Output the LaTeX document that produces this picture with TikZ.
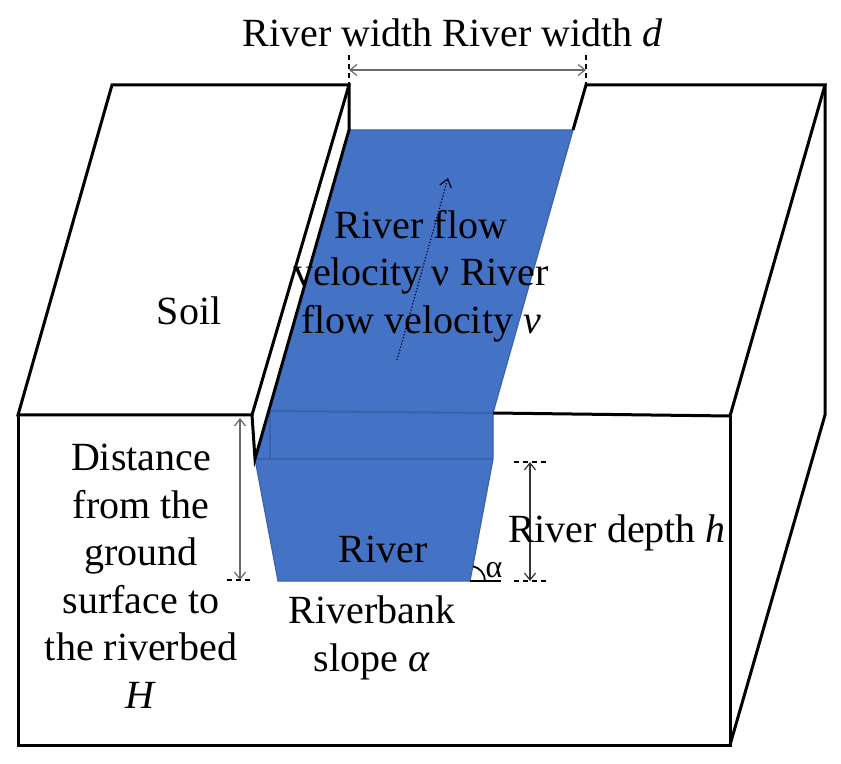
\documentclass[tikz,border=0pt]{standalone}
\usepackage{fontspec}
\setmainfont{Liberation Serif}
\usetikzlibrary{arrows.meta}
\definecolor{water}{HTML}{4472C4}
\definecolor{waterline}{HTML}{3A63AE}
\definecolor{dimgray}{HTML}{6A6A6A}
\begin{document}
\begin{tikzpicture}[x=0.5pt,y=-0.5pt,
  edge/.style={line width=1.5pt,line join=miter,draw=black},
  dimline/.style={line width=0.6pt,draw=dimgray,{Straight Barb[length=3.5pt,width=5.5pt]}-{Straight Barb[length=3.5pt,width=5.5pt]}},
  extline/.style={line width=0.7pt,draw=black,dash pattern=on 2.5pt off 2pt},
  lbl/.style={inner sep=0pt,align=center,font=\fontsize{20}{23.8}\selectfont},
  inner/.style={line width=1pt,draw=waterline}]
\useasboundingbox (0,0) rectangle (841,764);
% corners
\coordinate (LTa) at (112,85);
\coordinate (LTb) at (349,85);
\coordinate (LTc) at (252,415);
\coordinate (LTd) at (18,415);
\coordinate (LWa) at (349,130);
\coordinate (LWb) at (255,459);
\coordinate (RTa) at (586,85);
\coordinate (RTb) at (825,85);
\coordinate (RTc) at (730,416);
\coordinate (RTd) at (493,413);
\coordinate (WTr) at (573,130);
\coordinate (RSb) at (825,415);
\coordinate (FBl) at (18,745);
\coordinate (FBr) at (730,745);
\coordinate (TRr) at (493,459);
\coordinate (TBr) at (470,581);
\coordinate (TBl) at (278,581);
% water
\fill[water,draw=waterline,line width=0.6pt] (LWa) -- (WTr) -- (RTd) -- (TRr) -- (TBr) -- (TBl) -- (LWb) -- cycle;
\draw[inner] (270,411) -- (RTd);
\draw[inner] (270,411) -- (270,459);
\draw[inner] (LWb) -- (TRr);
% left soil top face
\draw[edge] (LTa) -- (LTb) -- (LTc) -- (LTd) -- cycle;
% left channel wall
\draw[edge] (LTb) -- (LWa) -- (LWb) -- (LTc);
% right soil top face
\draw[edge] (WTr) -- (RTa) -- (RTb) -- (RTc) -- (RTd);
% right side face
\draw[edge] (RTb) -- (RSb) -- (FBr);
% front face
\draw[edge] (LTd) -- (FBl) -- (FBr) -- (RTc);
% width dimension
\coordinate (Wa) at (349,70);
\coordinate (Wb) at (586,70);
\draw[dimline] (Wa) -- (Wb);
\draw[extline] (349,55) -- (LTb);
\draw[extline] (586,55) -- (RTa);
% H dimension
\coordinate (Ha) at (240,418);
\coordinate (Hb) at (240,580);
\draw[dimline] (Ha) -- (Hb);
\draw[extline] (227,580) -- (253,580);
% h dimension
\coordinate (ha) at (530,462);
\coordinate (hb) at (530,581);
\draw[dimline,draw=black!80] (ha) -- (hb);
\draw[extline] (514,462) -- (546,462);
\draw[extline] (514,581) -- (546,581);
% flow arrow
\coordinate (Fa) at (397,360);
\coordinate (Fb) at (448,178);
\draw[line width=0.6pt,draw=black!85!blue,densely dotted,-{Straight Barb[length=4pt,width=6pt]}] (Fa) -- (Fb);
% angle
\draw[line width=0.9pt] (TBr) -- (501,581);
\draw[line width=0.9pt] (485,581) arc[start angle=0,end angle=79,radius=7.5pt];
% labels
\node[lbl,anchor=base] (tw) at (453,47) {River width River width \textit{d}};
\node[lbl,anchor=base] (soil) at (189,325) {Soil};
\node[lbl,anchor=north] (flow) at (421,208) {\rule{0pt}{15pt}River flow\\velocity ν River\\flow velocity \textit{v}};
\node[lbl,anchor=north] (dist) at (141,440) {\rule{0pt}{15pt}Distance\\from the\\ground\\surface to\\the riverbed\\\textit{H}};
\node[lbl,anchor=base] (river) at (383,562) {River};
\node[lbl,anchor=base] (depth) at (617,543) {River depth \textit{h}};
\node[lbl,anchor=north] (bank) at (372,593) {\rule{0pt}{15pt}Riverbank\\slope \textit{α}};
\node[inner sep=0pt,anchor=base,font=\fontsize{16}{19}\selectfont] (alpha) at (494,577) {α};
\end{tikzpicture}
\end{document}
